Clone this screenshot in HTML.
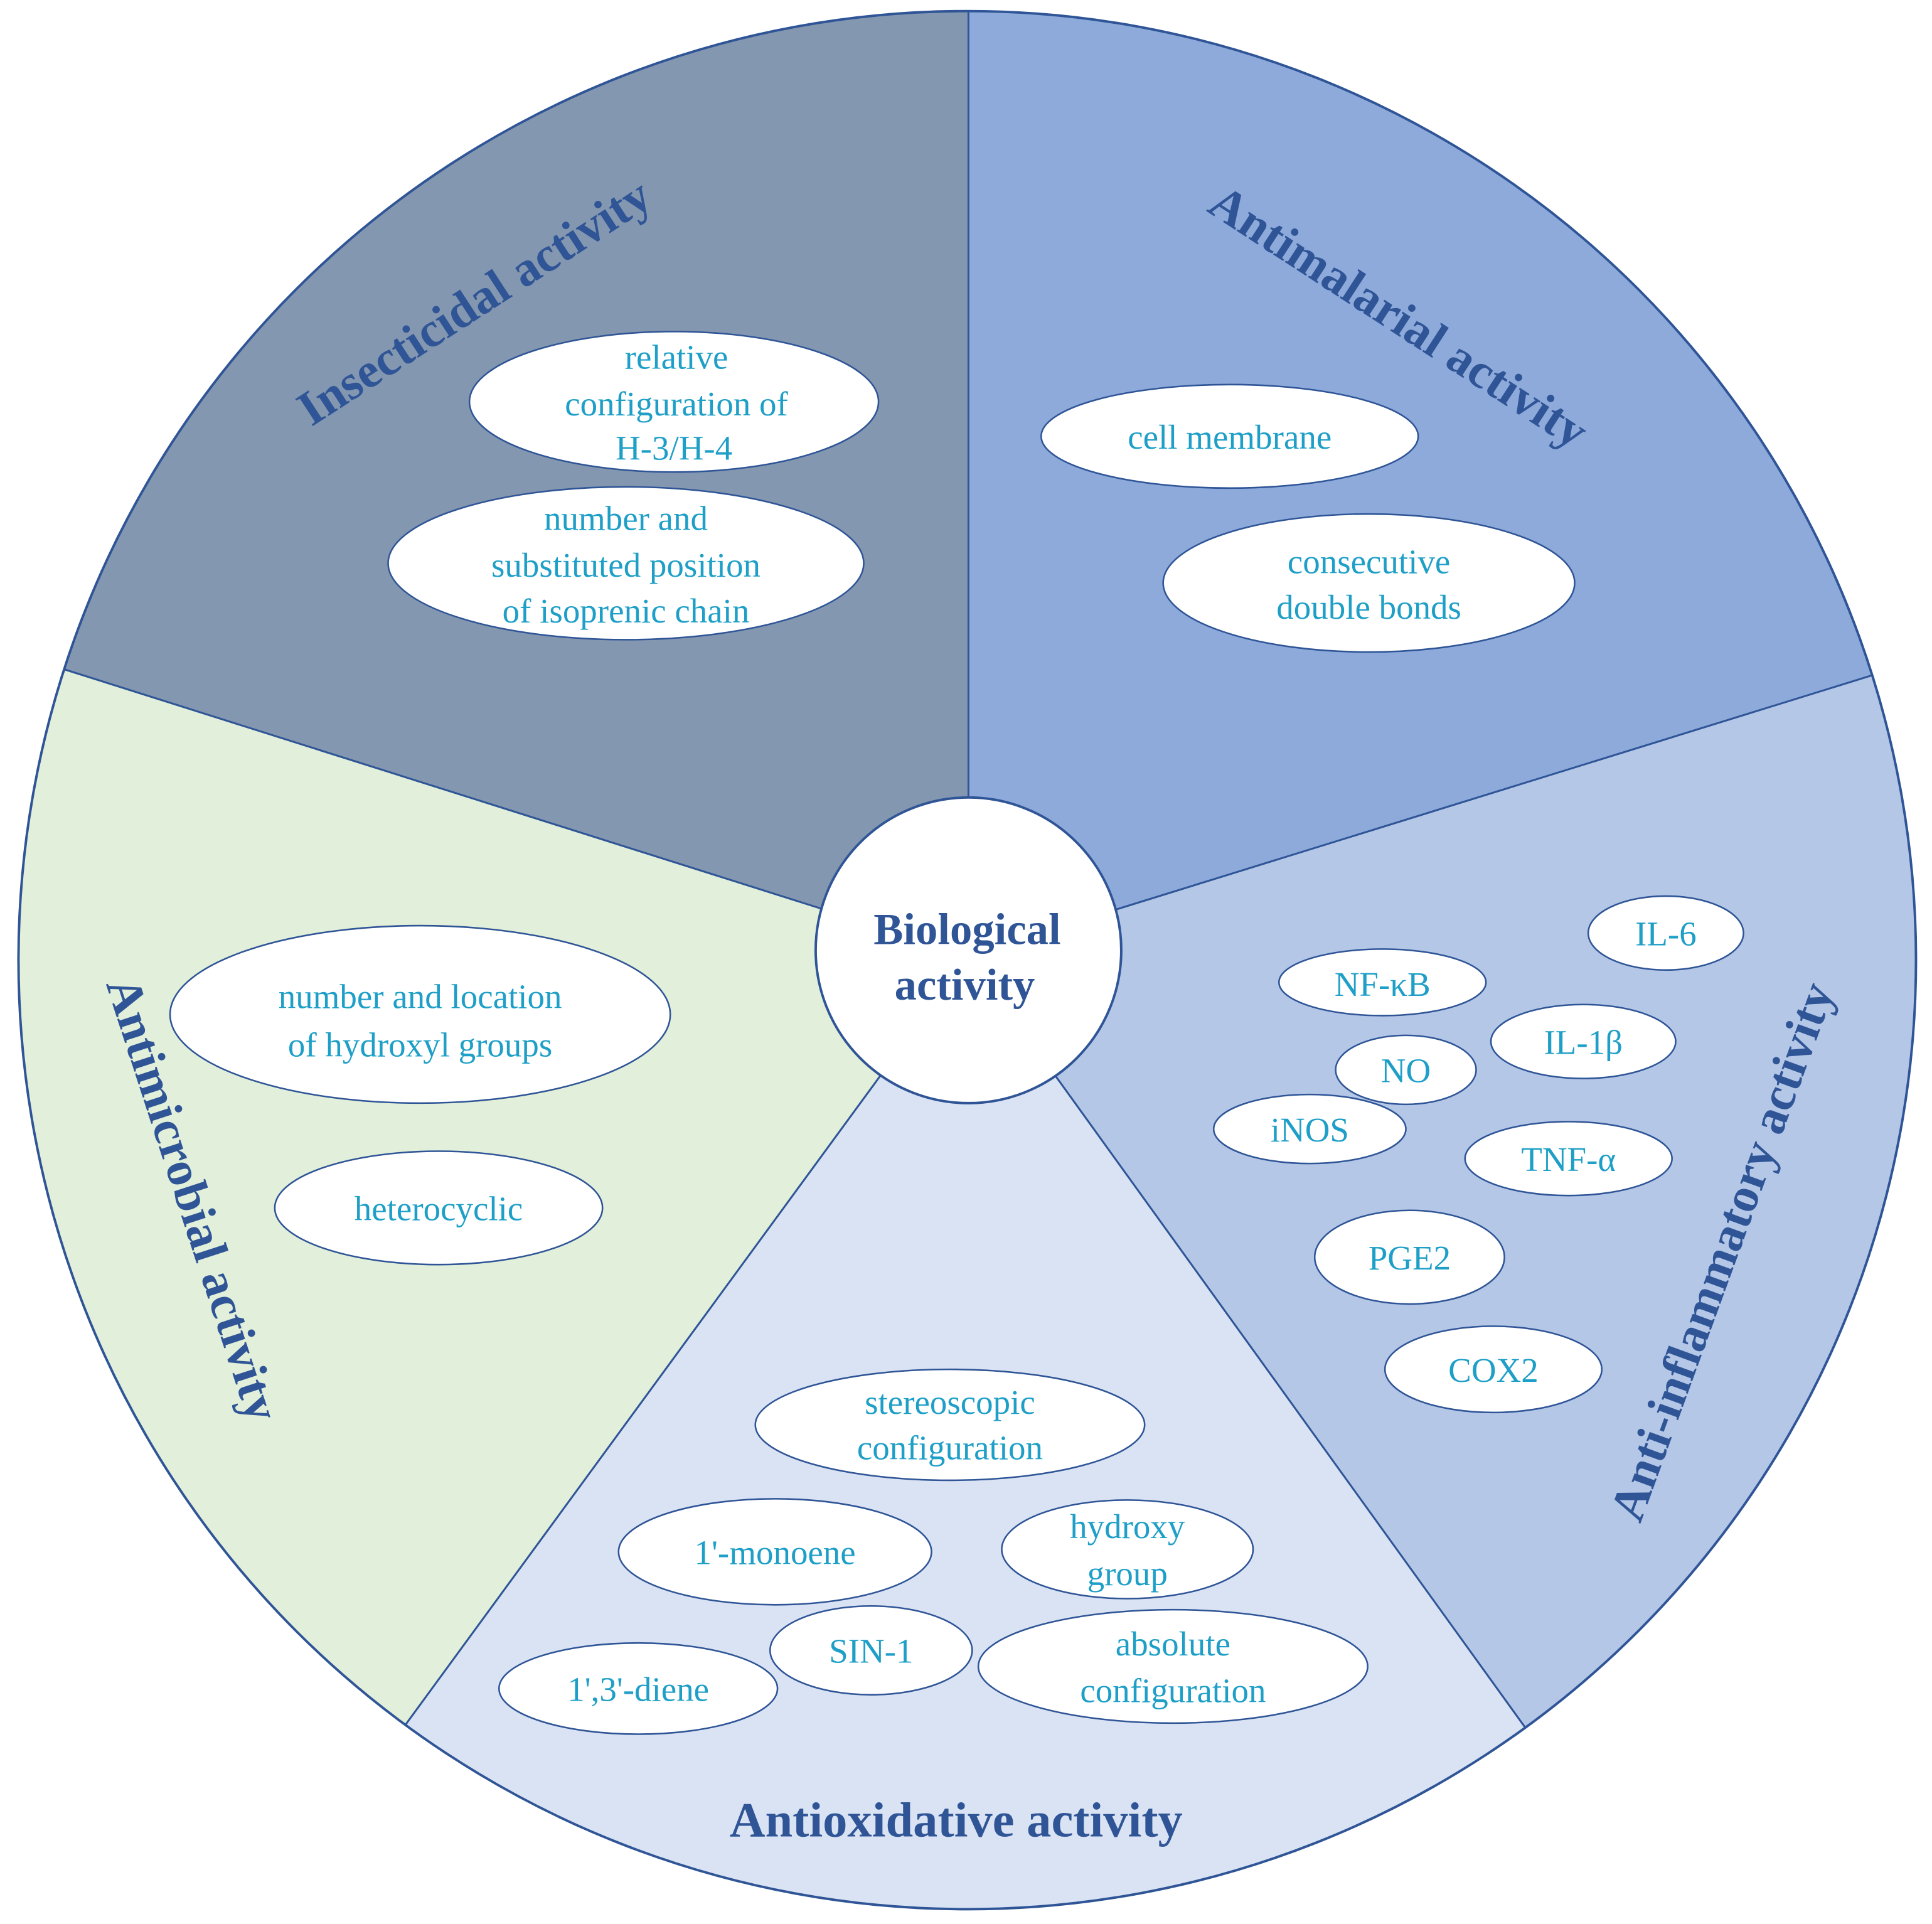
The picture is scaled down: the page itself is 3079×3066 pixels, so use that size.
<!DOCTYPE html>
<html><head><meta charset="utf-8"><style>html,body{margin:0;padding:0;background:#fff;width:3079px;height:3066px;overflow:hidden}svg{display:block}</style></head>
<body>
<svg width="3079" height="3066" viewBox="0 0 1568 1561" preserveAspectRatio="none" xmlns="http://www.w3.org/2000/svg">
<defs><clipPath id="c"><circle cx="785" cy="779" r="770"/></clipPath></defs>
<g clip-path="url(#c)" stroke="#2F5597" stroke-width="1.5">
<polygon points="786,775 786,-20 -100,-20 -100,495" fill="#8497B0"/>
<polygon points="786,775 786,-20 1700,-20 1700,492" fill="#8EAADB"/>
<polygon points="786,775 1700,492 1700,1700 1453,1700" fill="#B4C7E7"/>
<polygon points="786,775 1453,1700 109,1700" fill="#DAE3F3"/>
<polygon points="786,775 109,1700 -100,1700 -100,495" fill="#E2EFDA"/>
</g>
<circle cx="785" cy="779" r="770" fill="none" stroke="#2F5597" stroke-width="2"/>
<circle cx="786" cy="771" r="124" fill="#fff" stroke="#2F5597" stroke-width="2"/>
<g style="font-family:'Liberation Serif',serif;font-weight:bold" fill="#2F5597" text-anchor="middle">
<text x="785" y="766" font-size="36">Biological</text>
<text x="783" y="811" font-size="36">activity</text>
<text font-size="40" transform="translate(392,256) rotate(-33)">Insecticidal activity</text>
<text font-size="40" transform="translate(1128,268) rotate(33)">Antimalarial activity</text>
<text font-size="40" transform="translate(1410,1020) rotate(-70)">Anti-inflammatory activity</text>
<text font-size="40" transform="translate(144,977) rotate(72)">Antimicrobial activity</text>
<text font-size="40" x="776" y="1490">Antioxidative activity</text>
</g>
<g fill="#fff" stroke="#2F5597" stroke-width="1.3">
<ellipse cx="547" cy="326" rx="166" ry="57"/>
<ellipse cx="508" cy="457" rx="193" ry="62"/>
<ellipse cx="998" cy="354" rx="153" ry="42"/>
<ellipse cx="1111" cy="473" rx="167" ry="56"/>
<ellipse cx="341" cy="823" rx="203" ry="72"/>
<ellipse cx="356" cy="980" rx="133" ry="46"/>
<ellipse cx="1352" cy="757" rx="63" ry="30"/>
<ellipse cx="1122" cy="797" rx="84" ry="27"/>
<ellipse cx="1285" cy="845" rx="75" ry="30"/>
<ellipse cx="1141" cy="868" rx="57" ry="28"/>
<ellipse cx="1063" cy="916" rx="78" ry="28"/>
<ellipse cx="1273" cy="940" rx="84" ry="30"/>
<ellipse cx="1144" cy="1020" rx="77" ry="38"/>
<ellipse cx="1212" cy="1111" rx="88" ry="35"/>
<ellipse cx="771" cy="1156" rx="158" ry="45"/>
<ellipse cx="629" cy="1259" rx="127" ry="43"/>
<ellipse cx="915" cy="1257" rx="102" ry="40"/>
<ellipse cx="707" cy="1339" rx="82" ry="36"/>
<ellipse cx="518" cy="1370" rx="113" ry="37"/>
<ellipse cx="952" cy="1352" rx="158" ry="46"/>
</g>
<g style="font-family:'Liberation Serif',serif" font-size="28" fill="#1E9FC7" text-anchor="middle">
<text x="549" y="299">relative</text>
<text x="549" y="337">configuration of</text>
<text x="547" y="373">H-3/H-4</text>
<text x="508" y="430">number and</text>
<text x="508" y="468">substituted position</text>
<text x="508" y="505">of isoprenic chain</text>
<text x="998" y="364">cell membrane</text>
<text x="1111" y="465">consecutive</text>
<text x="1111" y="502">double bonds</text>
<text x="341" y="818">number and location</text>
<text x="341" y="857">of hydroxyl  groups</text>
<text x="356" y="990">heterocyclic</text>
<text x="1352" y="767">IL-6</text>
<text x="1122" y="808">NF-κB</text>
<text x="1285" y="855">IL-1β</text>
<text x="1141" y="878">NO</text>
<text x="1063" y="926">iNOS</text>
<text x="1273" y="950">TNF-α</text>
<text x="1144" y="1030">PGE2</text>
<text x="1212" y="1121">COX2</text>
<text x="771" y="1147">stereoscopic</text>
<text x="771" y="1184">configuration</text>
<text x="629" y="1269">1'-monoene</text>
<text x="915" y="1248">hydroxy</text>
<text x="915" y="1286">group</text>
<text x="707" y="1349">SIN-1</text>
<text x="518" y="1380">1',3'-diene</text>
<text x="952" y="1343">absolute</text>
<text x="952" y="1381">configuration</text>
</g>
</svg>
</body></html>
